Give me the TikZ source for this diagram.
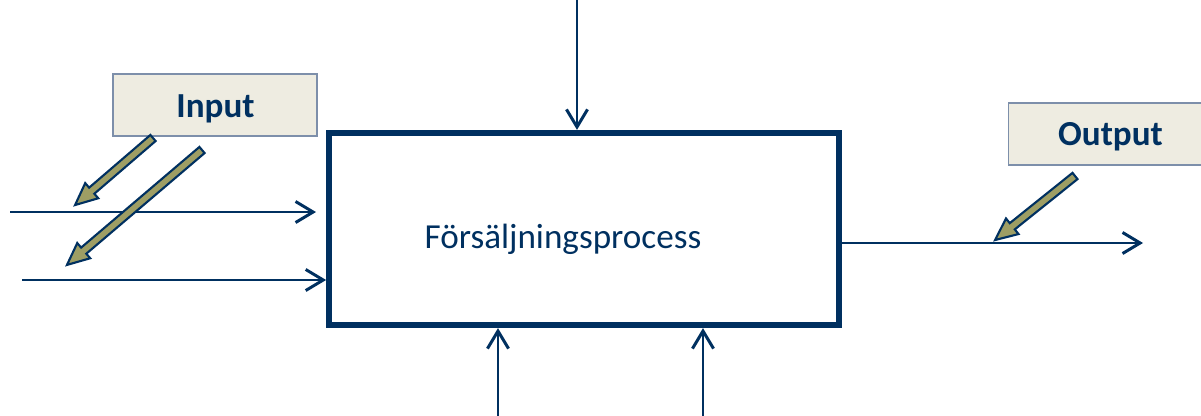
\documentclass[tikz,border=0pt]{standalone}
\usepackage{fontspec}
\setmainfont{Carlito}
\usetikzlibrary{arrows.meta,positioning,calc}

\definecolor{navy}{RGB}{0,48,96}
\definecolor{tanfill}{RGB}{238,236,225}
\definecolor{tanline}{RGB}{125,143,170}
\definecolor{olivefill}{RGB}{158,158,100}

\begin{document}
\begin{tikzpicture}
[
   x=0.02cm, y=0.02cm,
   flow/.style={navy, line width=1.7pt, -{Straight Barb[length=10pt,width=12pt]}},
   labelbox/.style={draw=tanline, fill=tanfill, line width=0.6pt, text=navy,
      font=\bfseries\fontsize{20}{24}\selectfont, inner sep=0pt}
]

\tikzset{process/.style = {draw=navy, line width=3.3pt, minimum width=10.2cm, minimum height=3.85cm, inner sep=0pt}}
\tikzset{pics/fatarrow/.style = {code={
   \draw[draw=navy, fill=olivefill, line width=1.2pt, miter limit=4]
      (0,-4) -- (#1-22,-4) -- (#1-22,-10) -- (#1,0) -- (#1-22,10) -- (#1-22,4) -- (0,4) -- cycle;
}}}

\useasboundingbox (0,0) rectangle (1201,-416);

% nodes
\node[process] (proc) at (584,-229) {};
\node[anchor=base, text=navy, font=\fontsize{20}{24}\selectfont] (ptext) at (563,-248) {Försäljningsprocess};
\node[labelbox, minimum width=4.08cm, minimum height=1.24cm] (in) at (215,-105) {};
\node[anchor=base, text=navy, font=\bfseries\fontsize{20}{24}\selectfont] at (215.5,-117) {Input};
\node[labelbox, minimum width=3.92cm, minimum height=1.24cm] (out) at (1106,-134) {};
\node[anchor=base, text=navy, font=\bfseries\fontsize{20}{24}\selectfont] at (1110.5,-145) {Output};

\coordinate (c1) at (577,0);
\coordinate (i1) at (10,-212);
\coordinate (i1e) at (316,-212);
\coordinate (i2) at (22,-280);
\coordinate (o1) at (1143,-243);
\coordinate (m1) at (498,-416);
\coordinate (m2) at (703,-416);

% arcs
\draw[flow] (c1) -- (c1 |- proc.north);
\draw[flow] (i1) -- (i1e);
\draw[flow] (i2) -- (i2 -| proc.west);
\draw[flow] (proc.east |- o1) -- (o1);
\draw[flow] (m1) -- (m1 |- proc.south);
\draw[flow] (m2) -- (m2 |- proc.south);

% pointers
\pic[rotate=220.7] at (153,-138) {fatarrow=102.8};
\pic[rotate=220.4] at (202,-150) {fatarrow=177.3};
\pic[rotate=218.7] at (1075,-176) {fatarrow=102.4};
\end{tikzpicture}
\end{document}
